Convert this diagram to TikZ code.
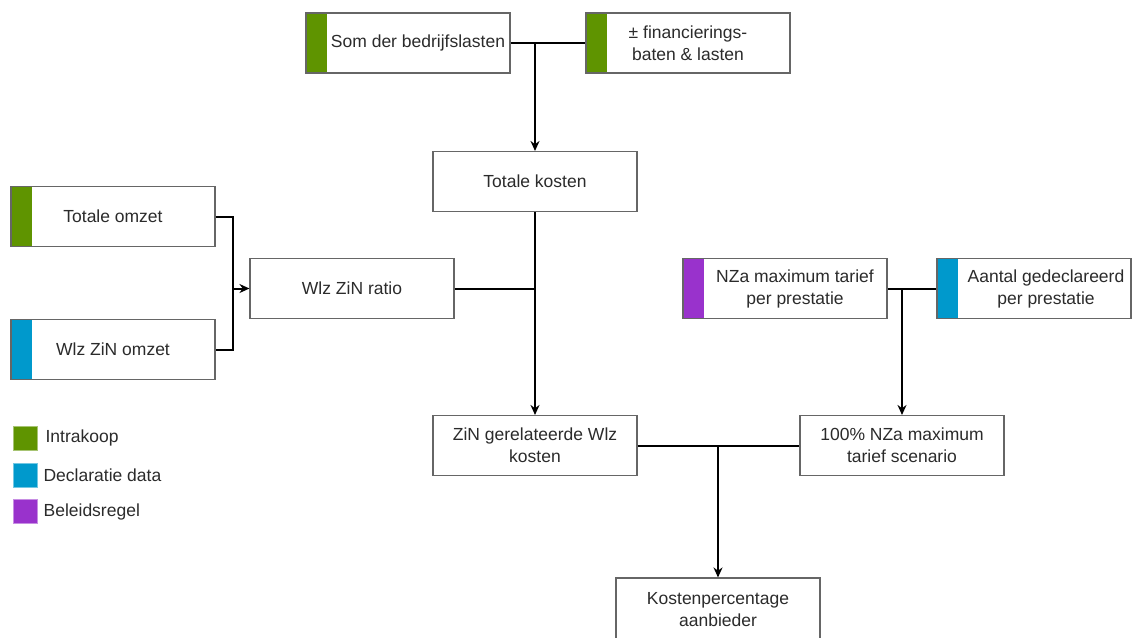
\documentclass[tikz,border=0pt]{standalone}
\usepackage{fontspec}
\setmainfont{Liberation Sans}
\usetikzlibrary{arrows.meta,positioning}
\definecolor{intra}{HTML}{5F9400}
\definecolor{decl}{HTML}{0099CC}
\definecolor{beleid}{HTML}{9932CC}
\definecolor{txtgray}{HTML}{2B2B2B}
\definecolor{boxgray}{HTML}{666666}
\begin{document}
\begin{tikzpicture}[x=1pt,y=-1pt,
    txt/.style={text=txtgray,font=\fontsize{17.5}{22}\selectfont,align=center,inner sep=0pt},
    box/.style={draw=boxgray,line width=1.1pt,fill=white,minimum width=204pt,minimum height=60pt,txt},
    srcbox/.style={box,path picture={\fill[#1] (path picture bounding box.north west) rectangle ([xshift=21pt]path picture bounding box.south west);}},
    wire/.style={line width=2pt,black},
    arr/.style={wire,-{Stealth[length=10pt,width=9pt]}},
    legsq/.style={fill=#1,draw=#1!55!white,line width=0.8pt,minimum size=24pt,inner sep=0pt}]
    \useasboundingbox (0,0) rectangle (1132,637);
    % bronnen
    \node[srcbox=intra,label={[txt,xshift=10pt]center:Som der bedrijfslasten}] (som) at (408,43) {};
    \node[srcbox=intra,label={[txt]center:± financierings-\\baten \& lasten}] (fin) at (688,43) {};
    \node[srcbox=intra,label={[txt]center:Totale omzet}] (to) at (113,216.5) {};
    \node[srcbox=decl,label={[txt]center:Wlz ZiN omzet}] (wo) at (113,349.5) {};
    \node[srcbox=beleid,label={[txt,xshift=10pt]center:NZa maximum tarief\\per prestatie}] (nza) at (785,288.5) {};
    \node[srcbox=decl,minimum width=194pt,label={[txt,xshift=12pt]center:Aantal gedeclareerd\\per prestatie}] (aant) at (1034,288.5) {};
    % tussenstappen
    \node[box] (tk) at (535,181.5) {Totale kosten};
    \node[box] (ratio) at (352,288.5) {Wlz ZiN ratio};
    \node[box] (zin) at (535,445.5) {ZiN gerelateerde Wlz\\kosten};
    \node[box] (scen) at (902,445.5) {100\% NZa maximum\\tarief scenario};
    \node[box,minimum height=63pt] (kp) at (718,609.5) {Kostenpercentage\\aanbieder};
    % verbindingen
    \draw[wire] (som.east) -- (fin.west);
    \draw[arr] (som.east -| tk.north) -- (tk.north);
    \draw[wire] (to.east) -- ++(17,0) |- (wo.east);
    \draw[arr] ([xshift=17pt]to.east |- ratio.west) -- (ratio.west);
    \draw[wire] (ratio.east) -- (ratio.east -| tk.south);
    \draw[arr] (tk.south) -- (zin.north);
    \draw[wire] (nza.east) -- (aant.west);
    \draw[arr] (nza.east -| scen.north) -- (scen.north);
    \draw[wire] (zin.east) -- (scen.west);
    \draw[arr] (zin.east -| kp.north) -- (kp.north);
    % legenda
    \node[legsq=intra] (l1) at (25,438) {};
    \node[legsq=decl] (l2) at (25,475.5) {};
    \node[legsq=beleid] (l3) at (25,511.5) {};
    \node[txt,right=8pt of l1] (t1) {Intrakoop};
    \node[txt,right=6pt of l2] (t2) {Declaratie data};
    \node[txt,right=6pt of l3] (t3) {Beleidsregel};
\end{tikzpicture}
\end{document}
